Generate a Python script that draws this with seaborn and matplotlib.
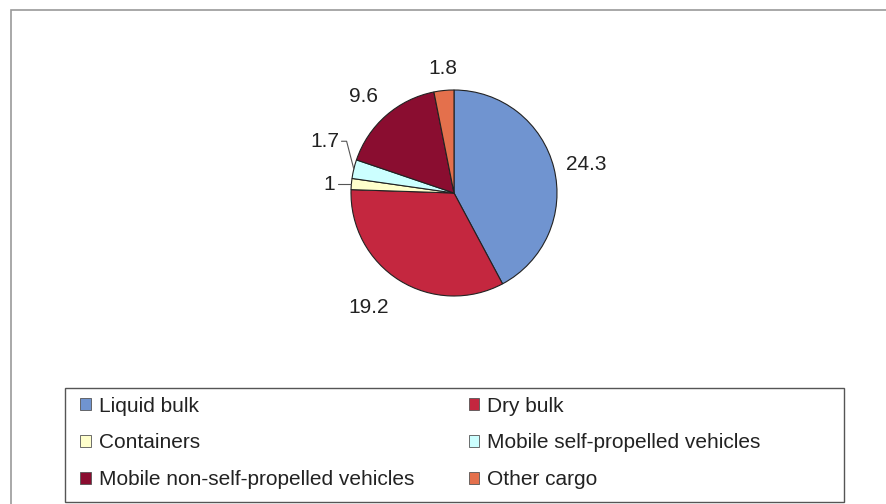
import matplotlib
matplotlib.use('Agg')
import matplotlib.pyplot as plt
import seaborn as sns
import numpy as np
from matplotlib.patches import Patch, Rectangle

# ---- data ----
categories = ['Liquid bulk', 'Dry bulk', 'Containers',
              'Mobile self-propelled vehicles',
              'Mobile non-self-propelled vehicles', 'Other cargo']
values = [24.3, 19.2, 1, 1.7, 9.6, 1.8]
value_labels = ['24.3', '19.2', '1', '1.7', '9.6', '1.8']
colors = ['#7094d0', '#c4273f', '#ffffcc', '#ccffff', '#8a0d30', '#e4704c']

sns.set_theme(style='white')
plt.rcParams['font.family'] = ['Liberation Sans', 'DejaVu Sans']

W, H = 886, 504
fig = plt.figure(figsize=(W / 100, H / 100), dpi=100)
fig.patch.set_facecolor('white')

# outer chart frame
fig.add_artist(Rectangle((11 / W, -0.02), 1.0, (H - 10) / H + 0.02,
                         transform=fig.transFigure, fill=False,
                         edgecolor='#9a9a9a', linewidth=1.2))

# pie axes
cx, cy, R = 454, 193, 103
L = 1.6
side = 2 * L * R
ax = fig.add_axes([(cx - side / 2) / W, (H - cy - side / 2) / H, side / W, side / H])
wedges, _ = ax.pie(values, colors=colors, startangle=90, counterclock=False,
                   radius=1.0,
                   wedgeprops=dict(edgecolor='#222222', linewidth=0.8))
ax.set_xlim(-L, L)
ax.set_ylim(-L, L)
ax.set_aspect('equal')
ax.axis('off')

fs = 15
for w, lab in zip(wedges, value_labels):
    ang = np.deg2rad((w.theta1 + w.theta2) / 2)
    c, s = np.cos(ang), np.sin(ang)
    if lab == '1':
        ex, ey = c, s
        ax.plot([ex, ex - 0.13], [ey, ey], color='#555555', lw=0.8)
        ax.text(ex - 0.16, ey, lab, ha='right', va='center', fontsize=fs, color='#222222')
        continue
    if lab == '1.7':
        ex, ey = c, s
        kx, ky = ex - 0.07, ey + 0.27
        ax.plot([ex, kx, kx - 0.05], [ey, ky, ky], color='#555555', lw=0.8)
        ax.text(kx - 0.07, ky, lab, ha='right', va='center', fontsize=fs, color='#222222')
        continue
    d = 1.12
    if s < -0.3:
        d = 1.2
    ha = 'left' if c > 0.3 else ('right' if c < -0.3 else 'center')
    va = 'bottom' if s > 0.3 else ('top' if s < -0.3 else 'center')
    ax.text(d * c, d * s, lab, ha=ha, va=va, fontsize=fs, color='#222222')

# legend box
lx0, ly0, lx1, ly1 = 65, 388, 844, 502
fig.add_artist(Rectangle((lx0 / W, (H - ly1) / H), (lx1 - lx0) / W, (ly1 - ly0) / H,
                         transform=fig.transFigure, fill=False,
                         edgecolor='#555555', linewidth=1.0))
handles = [Patch(facecolor=col, edgecolor='#555555', linewidth=0.6) for col in colors]
# row-major order in a 2-column legend -> reorder to column-major
order = [0, 2, 4, 1, 3, 5]
leg = fig.legend([handles[i] for i in order], [categories[i] for i in order],
                 ncol=2, frameon=False,
                 loc='center left',
                 bbox_to_anchor=(70 / W, (H - 443) / H),
                 fontsize=fs, handlelength=0.5, handleheight=0.5,
                 handletextpad=0.4, columnspacing=2.6, labelspacing=0.85,
                 borderpad=0.0)
for t in leg.get_texts():
    t.set_color('#222222')

fig.savefig('out.png', dpi=100, facecolor='white')
